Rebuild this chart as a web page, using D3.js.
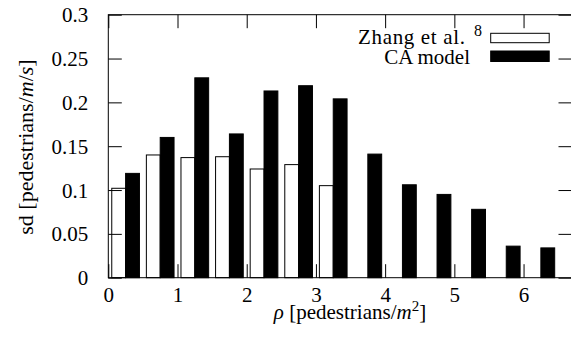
<!DOCTYPE html>
<html>
<head>
<meta charset="utf-8">
<script src="https://cdn.jsdelivr.net/npm/d3@7"></script>
<style>
  html, body { margin: 0; padding: 0; background: #fff; }
  svg text { font-family: "Liberation Serif", "Times New Roman", Times, "DejaVu Serif", serif !important; }
</style>
</head>
<body>
<svg id="chart" width="571" height="340"></svg>
<script>
// ---- data ----
const densityCenters = [0.25, 0.75, 1.25, 1.75, 2.25, 2.75, 3.25, 3.75, 4.25, 4.75, 5.25, 5.75, 6.25];
const zhangValues = [0.102, 0.140, 0.137, 0.138, 0.124, 0.129, 0.105];
const caValues = [0.119, 0.160, 0.228, 0.164, 0.213, 0.219, 0.204, 0.141, 0.106, 0.095, 0.078, 0.036, 0.034];
const xTicks = [0, 1, 2, 3, 4, 5, 6];
const yTicks = [0, 0.05, 0.1, 0.15, 0.2, 0.25, 0.3];
const seriesNames = ["Zhang et al.", "CA model"];
const zhangRef = "8";

// ---- layout ----
const svg = d3.select("#chart");
const L = 108.3, R = 572, T = 14.7, B = 277.7;
const x = d3.scaleLinear().domain([0, 6.7]).range([L, R]);
const y = d3.scaleLinear().domain([0, 0.3]).range([B, T]);
const barW = 0.2;
const tickLen = 13.5;
const fs = 21;

// bars
const g = svg.append("g");
g.selectAll("rect.zhang").data(zhangValues).join("rect")
  .attr("class", "zhang")
  .attr("x", (d, i) => x(densityCenters[i] - barW))
  .attr("width", (d, i) => x(densityCenters[i]) - x(densityCenters[i] - barW))
  .attr("y", d => y(d))
  .attr("height", d => y(0) - y(d))
  .attr("fill", "#fff").attr("stroke", "#000").attr("stroke-width", 1);

g.selectAll("rect.ca").data(caValues).join("rect")
  .attr("class", "ca")
  .attr("x", (d, i) => x(densityCenters[i]))
  .attr("width", (d, i) => x(densityCenters[i] + barW) - x(densityCenters[i]))
  .attr("y", d => y(d))
  .attr("height", d => y(0) - y(d))
  .attr("fill", "#000").attr("stroke", "#000").attr("stroke-width", 1);

// axes
function style(sel) {
  sel.attr("font-family", null).attr("font-size", null);
  sel.select(".domain").remove();
  sel.selectAll(".tick line").attr("stroke", "#000").attr("stroke-width", 1);
  sel.selectAll("text").attr("font-size", fs).attr("fill", "#000");
}
const xa = svg.append("g").attr("transform", `translate(0,${B})`)
  .call(d3.axisBottom(x).tickValues(xTicks).tickFormat(d3.format("d")).tickSizeInner(-tickLen).tickSizeOuter(0))
  .call(style);
xa.selectAll(".tick text").attr("dy", null).attr("y", 24.5);
svg.append("g").attr("transform", `translate(0,${T})`)
  .call(d3.axisTop(x).tickValues(xTicks).tickFormat("").tickSizeInner(-tickLen).tickSizeOuter(0))
  .call(style);
const ya = svg.append("g").attr("transform", `translate(${L},0)`)
  .call(d3.axisLeft(y).tickValues(yTicks).tickFormat(d => String(d)).tickSizeInner(-tickLen).tickSizeOuter(0))
  .call(style);
ya.selectAll(".tick text").attr("x", -20).attr("dy", null).attr("y", 7);
svg.append("g").attr("transform", `translate(${x(6.7)},0)`)
  .call(d3.axisRight(y).tickValues(yTicks).tickFormat("").tickSizeInner(-tickLen).tickSizeOuter(0))
  .call(style);

// frame
svg.append("rect").attr("x", L).attr("y", T).attr("width", R - L).attr("height", B - T)
  .attr("fill", "none").attr("stroke", "#000").attr("stroke-width", 1);

// legend
const lg = svg.append("g").attr("font-size", fs).attr("fill", "#000");
lg.append("text").attr("x", 358).attr("y", 44)
  .attr("textLength", 107).attr("lengthAdjust", "spacing").text(seriesNames[0]);
lg.append("text").attr("x", 474).attr("y", 36).attr("font-size", 16).text(zhangRef);
lg.append("text").attr("x", 470).attr("y", 63.5).attr("text-anchor", "end").text(seriesNames[1]);
lg.append("rect").attr("x", 490.7).attr("y", 33.3).attr("width", 58.5).attr("height", 9.4)
  .attr("fill", "#fff").attr("stroke", "#000").attr("stroke-width", 1);
lg.append("rect").attr("x", 490.7).attr("y", 51).attr("width", 58.5).attr("height", 10.5)
  .attr("fill", "#000").attr("stroke", "#000").attr("stroke-width", 1);

// axis labels
const xl = svg.append("text").attr("x", 350).attr("y", 318.5).attr("text-anchor", "middle").attr("font-size", fs);
xl.append("tspan").attr("font-style", "italic").text("ρ");
xl.append("tspan").text(" [pedestrians/");
xl.append("tspan").attr("font-style", "italic").text("m");
xl.append("tspan").attr("dy", -8).attr("font-size", 15).text("2");
xl.append("tspan").attr("dy", 8).text("]");

const yl = svg.append("text").attr("transform", "translate(32.5,147) rotate(-90)").attr("text-anchor", "middle").attr("font-size", 22);
yl.append("tspan").text("sd [pedestrians/");
yl.append("tspan").attr("font-style", "italic").text("m");
yl.append("tspan").text("/");
yl.append("tspan").attr("font-style", "italic").text("s");
yl.append("tspan").text("]");
</script>
</body>
</html>
